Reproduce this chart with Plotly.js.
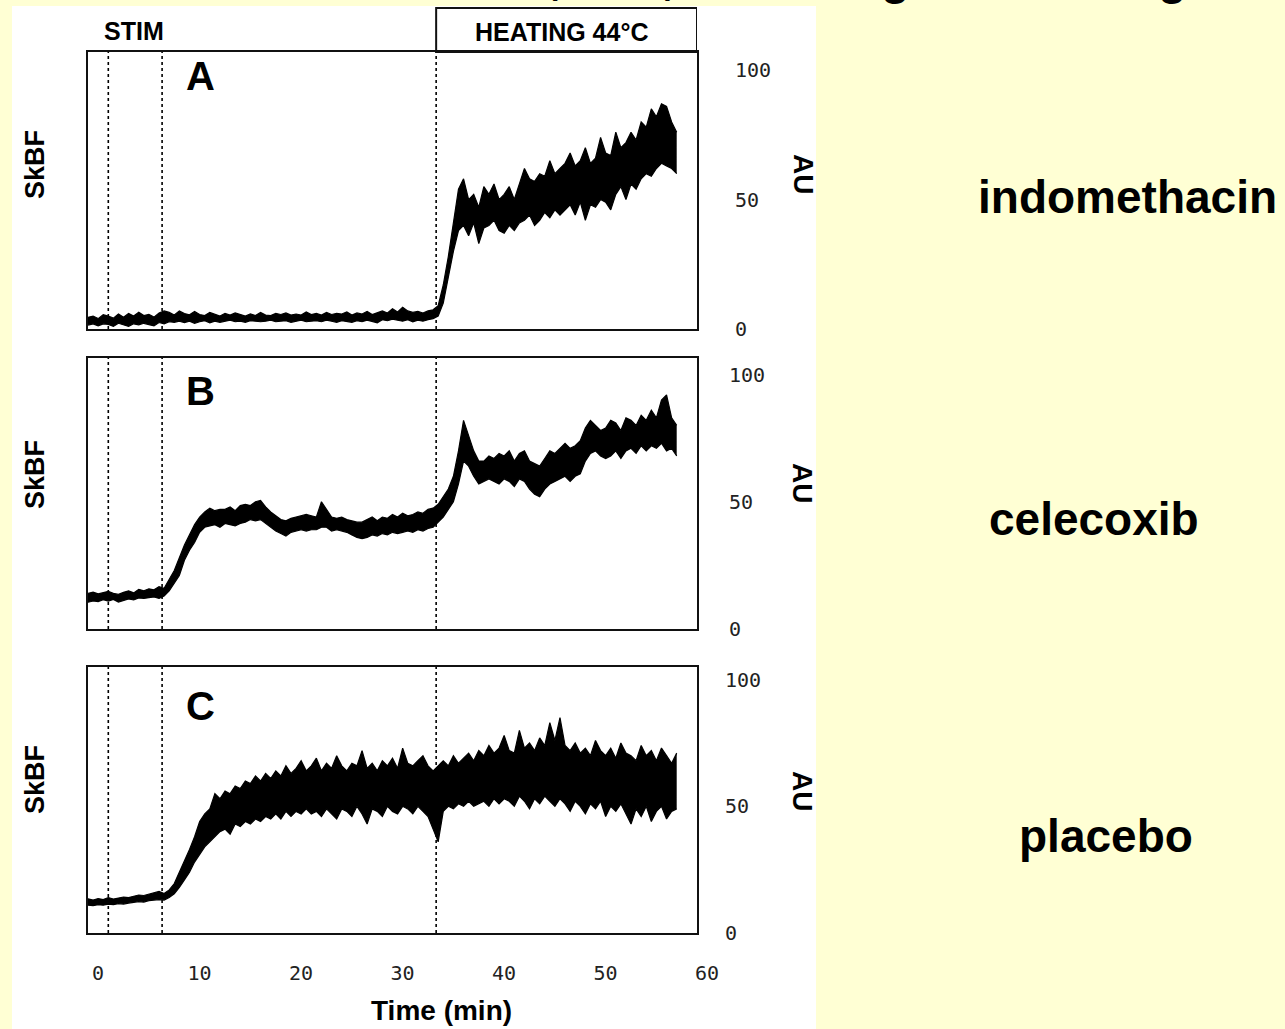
<!DOCTYPE html>
<html>
<head>
<meta charset="utf-8">
<script src="https://cdn.plot.ly/plotly-3.0.1.min.js"></script>
<style>html,body{margin:0;padding:0;background:#FFFFD4;}#chart{width:1285px;height:1029px;}</style>
</head>
<body>
<div id="chart"></div>
<script>
// ---- data ----
const time = [0,0.5,1,1.5,2,2.5,3,3.5,4,4.5,5,5.5,6,6.5,7,7.5,8,8.5,9,9.5,10,10.5,11,11.5,12,12.5,13,13.5,14,14.5,15,15.5,16,16.5,17,17.5,18,18.5,19,19.5,20,20.5,21,21.5,22,22.5,23,23.5,24,24.5,25,25.5,26,26.5,27,27.5,28,28.5,29,29.5,30,30.5,31,31.5,32,32.5,33,33.5,34,34.5,35,35.5,36,36.5,37,37.5,38,38.5,39,39.5,40,40.5,41,41.5,42,42.5,43,43.5,44,44.5,45,45.5,46,46.5,47,47.5,48,48.5,49,49.5,50,50.5,51,51.5,52,52.5,53,53.5,54,54.5,55,55.5,56,56.5,57,57.5,58];

// Panel A: indomethacin (lower / upper edge of the noisy trace, AU)
const indoLow  = [1.5,2,1.2,2,1.8,1,2.2,1.5,1,2,1.6,2.2,1.8,1.2,2.5,2,2.8,2.6,3,2.5,3,2.2,2.8,3.2,2.4,3,2.6,3,3.4,2.8,3,2.6,3.2,3,2.8,3,3.4,2.8,3,3.2,2.6,3,3.4,2.8,3,3.2,2.8,3.4,3,2.6,3.2,3,2.6,3.2,2.8,3.4,3,2.4,3.6,3.2,3.8,3.4,3,3.6,2.8,3.4,3,3.6,4,5,10,20,30,38,40,36,41,33,39,40,42,38,37,40,38,41,42,44,40,42,45,43,46,44,46,48,44,49,42,48,47,50,49,46,52,55,50,56,54,58,60,59,62,64,63,62,60];
const indoHigh = [4.5,5,4,5.5,5,4.2,5.8,4.5,6,5,6.5,5.2,5.6,4.6,6.2,7,6.4,5.4,7,6,5.5,6.8,5.6,5.2,6.4,5.8,5,6,5.4,6.2,5.6,5,5.8,5.2,6.4,5.4,5.2,6,5.6,6.2,5.4,5.8,5.4,6.6,5.6,6,5.4,6.4,5.6,6,5.8,6.6,5.4,6.2,5.8,6.8,5.6,6.4,7,6.2,7.8,6.6,8.4,7,6.4,6.8,6.2,7,7.4,9,17,28,42,54,58,50,52,47,55,52,56,50,52,55,50,56,62,58,57,60,59,65,60,62,64,68,63,65,70,64,66,74,68,67,76,70,72,76,73,80,78,85,82,87,86,80,76];

// Panel B: celecoxib
const celeLow  = [10.5,11,10.8,11.5,11,11.6,10.6,11.2,11.8,11.4,12.2,12,12.4,12.6,12,13,15,18,21,27,31,34,38,40,40.5,41,40,41.5,41,40.5,41.5,42,43,42.5,43,41.5,40,38.5,37.5,36.5,38,38.5,39,38.5,39,39,40,40,38.5,39,38.5,38,37,36,35.5,36,37,36.5,37.5,37,38,37.5,38,38.5,38,39,38.5,39.5,40,42,44,47,50,57,66,64,60,57,58,59,58,57,59,58,56,59,58,55,53,52,55,57,58,59,60,58,60,61,66,69,70,68,67,68,70,67,70,71,69,72,70,72,71,73,70,71,68];
const celeHigh = [14,14.5,13.8,14.2,14.8,14,13.6,14.4,15,14.2,15.6,15,15.8,15.4,16.6,16,19.5,23,28,33,37,41,44,46,47.5,46.5,47,47,48,46.5,48.5,49,48.5,50,50.5,48,46,44.5,43,42.5,43.5,44,44.5,45,44.5,44,50,47,44,43.5,44,43,42.5,42,42,43,44,42.5,44,43.5,45,44,45.5,44.5,45,46,45.5,47,47.5,49,52,55,60,70,82,76,70,66,66,68,67,69,68,70,66,69,70,66,65,64,67,70,69,71,73,71,72,74,79,82,80,78,79,82,81,78,83,82,80,84,82,86,83,90,92,83,80];

// Panel C: placebo
const plaLow   = [11,10.8,11.2,11,11.4,11.2,11.6,11.4,11.8,12,12.4,12.2,12.8,13,13.2,13,14,15.5,18,21,24,28,31,34,36,38,40,41,39,43,42,44,43,45,44,46,45,47,45,48,46,48,47,49,47,48,46,49,47,45,49,48,46,50,47,43,49,48,46,50,48,47,50,49,47,50,48,46,41,36,48,50,49,51,50,52,50,51,52,50,53,51,53,52,50,54,52,49,53,51,54,52,50,53,51,48,52,50,47,51,49,52,46,50,48,51,47,43,49,46,50,44,48,50,45,48,49];
const plaHigh  = [13.5,13,13.6,13.2,14,13.4,13.8,14.2,14,14.6,15,14.8,15.4,15.8,16.4,15.6,17,19.5,24,28,33,38,44,47,49,55,53,56,55,58,57,60,59,62,60,63,61,64,62,66,63,65,68,64,66,69,64,67,65,70,66,64,67,66,72,65,67,64,68,66,69,65,73,67,66,68,70,66,64,66,68,66,70,67,69,71,68,72,70,74,71,73,78,72,71,80,73,75,72,77,74,83,76,85,74,72,75,71,73,70,76,72,70,73,69,75,71,70,68,74,70,72,68,73,70,67,71];

const events   = [2.0, 7.3, 34.3];      // dotted markers (min)
const heatEnd  = 60;                     // heating box right edge (min)
const xTicks   = [0,10,20,30,40,50,60];
const yTicks   = [0,50,100];
const panelLetters = ['A','B','C'];
const drugNames    = ['indomethacin','celecoxib','placebo'];

// ---- layout helpers ----
const W = 1285, H = 1029;
const px = x => x / W;
const py = y => 1 - y / H;
const BOLD = {family:'Liberation Sans, Arial, Helvetica, sans-serif', color:'#000', weight:'bold'};
const TICKF = {family:'DejaVu Sans Mono, monospace', size:20, color:'#222'};
function label(text, x, y, size, extra) {
  return Object.assign({text, x: px(x), y: py(y), xref:'paper', yref:'paper',
    xanchor:'center', yanchor:'middle', showarrow:false,
    font:Object.assign({size}, BOLD)}, extra || {});
}

const panels = [
  {low:indoLow, high:indoHigh, top:52,  bot:329, yr:[0,107],   stand:32, letterY:76,  skbfY:165, auY:174, drugX:1127, drugY:197},
  {low:celeLow, high:celeHigh, top:358, bot:629, yr:[0,106.5], stand:26, letterY:391, skbfY:475, auY:483, drugX:1094, drugY:519},
  {low:plaLow,  high:plaHigh,  top:667, bot:933, yr:[0,105],   stand:22, letterY:706, skbfY:780, auY:791, drugX:1106, drugY:836}
];

const data = [];
const layout = {
  width: W, height: H,
  margin: {l:0, r:0, t:0, b:0},
  paper_bgcolor: '#FFFFD4',
  plot_bgcolor: '#FFFFFF',
  showlegend: false,
  hovermode: false,
  shapes: [
    {type:'rect', xref:'paper', yref:'paper', x0:px(12), x1:px(816), y0:0, y1:py(6),
     fillcolor:'#FFFFFF', line:{width:0}, layer:'below'}
  ],
  annotations: []
};

panels.forEach((p, i) => {
  const n = i === 0 ? '' : String(i + 1);
  const xa = 'x' + n, ya = 'y' + n;
  data.push({x: time, y: p.low, xaxis: xa, yaxis: ya, type:'scatter', mode:'lines',
             line:{color:'#000', width:1.2}});
  data.push({x: time, y: p.high, xaxis: xa, yaxis: ya, type:'scatter', mode:'lines',
             fill:'tonexty', fillcolor:'#000', line:{color:'#000', width:1.2}});
  const isBottom = i === 2;
  layout['xaxis' + n] = {
    domain:[px(88), px(697)], range:[0,60], anchor: ya,
    showline:true, mirror:true, linewidth:2, linecolor:'#111',
    showgrid:false, zeroline:false, ticks:'',
    tickvals: xTicks, showticklabels: isBottom,
    tickfont: TICKF, ticklabelshift: 10, ticklabelstandoff: 21
  };
  layout['yaxis' + n] = {
    domain:[py(p.bot), py(p.top)], range:p.yr, anchor: xa, side:'right',
    showline:true, mirror:true, linewidth:2, linecolor:'#111',
    showgrid:false, zeroline:false, ticks:'',
    tickvals: yTicks, tickfont: TICKF, ticklabelstandoff: p.stand
  };
  events.forEach(ev => {
    layout.shapes.push({type:'line', xref: xa, yref: ya + ' domain', x0: ev, x1: ev, y0: 0, y1: 1,
                        line:{color:'#000', width:1.6, dash:'dot'}});
  });
  layout.annotations.push(
    label(panelLetters[i], 200, p.letterY, 40),
    label('SkBF', 35, p.skbfY, 27, {textangle:-90}),
    label('AU', 803, p.auY, 28, {textangle:90}),
    label(drugNames[i], p.drugX, p.drugY, 46)
  );
});

// heating header box
layout.shapes.push({type:'rect', xref:'x', yref:'paper', x0: events[2], x1: heatEnd,
                    y0: py(52), y1: py(8), line:{color:'#111', width:2}, fillcolor:'rgba(0,0,0,0)'});

layout.annotations.push(
  label('STIM', 134, 31, 25),
  label('HEATING 44°C', 561, 32, 25),
  label('Time (min)', 441, 1010, 28),
  label('Skin blood flow, LDF, in heating and cooling', 202, -22, 47, {xanchor:'left'})
);

Plotly.newPlot('chart', data, layout, {displayModeBar:false, staticPlot:true});
</script>
</body>
</html>
